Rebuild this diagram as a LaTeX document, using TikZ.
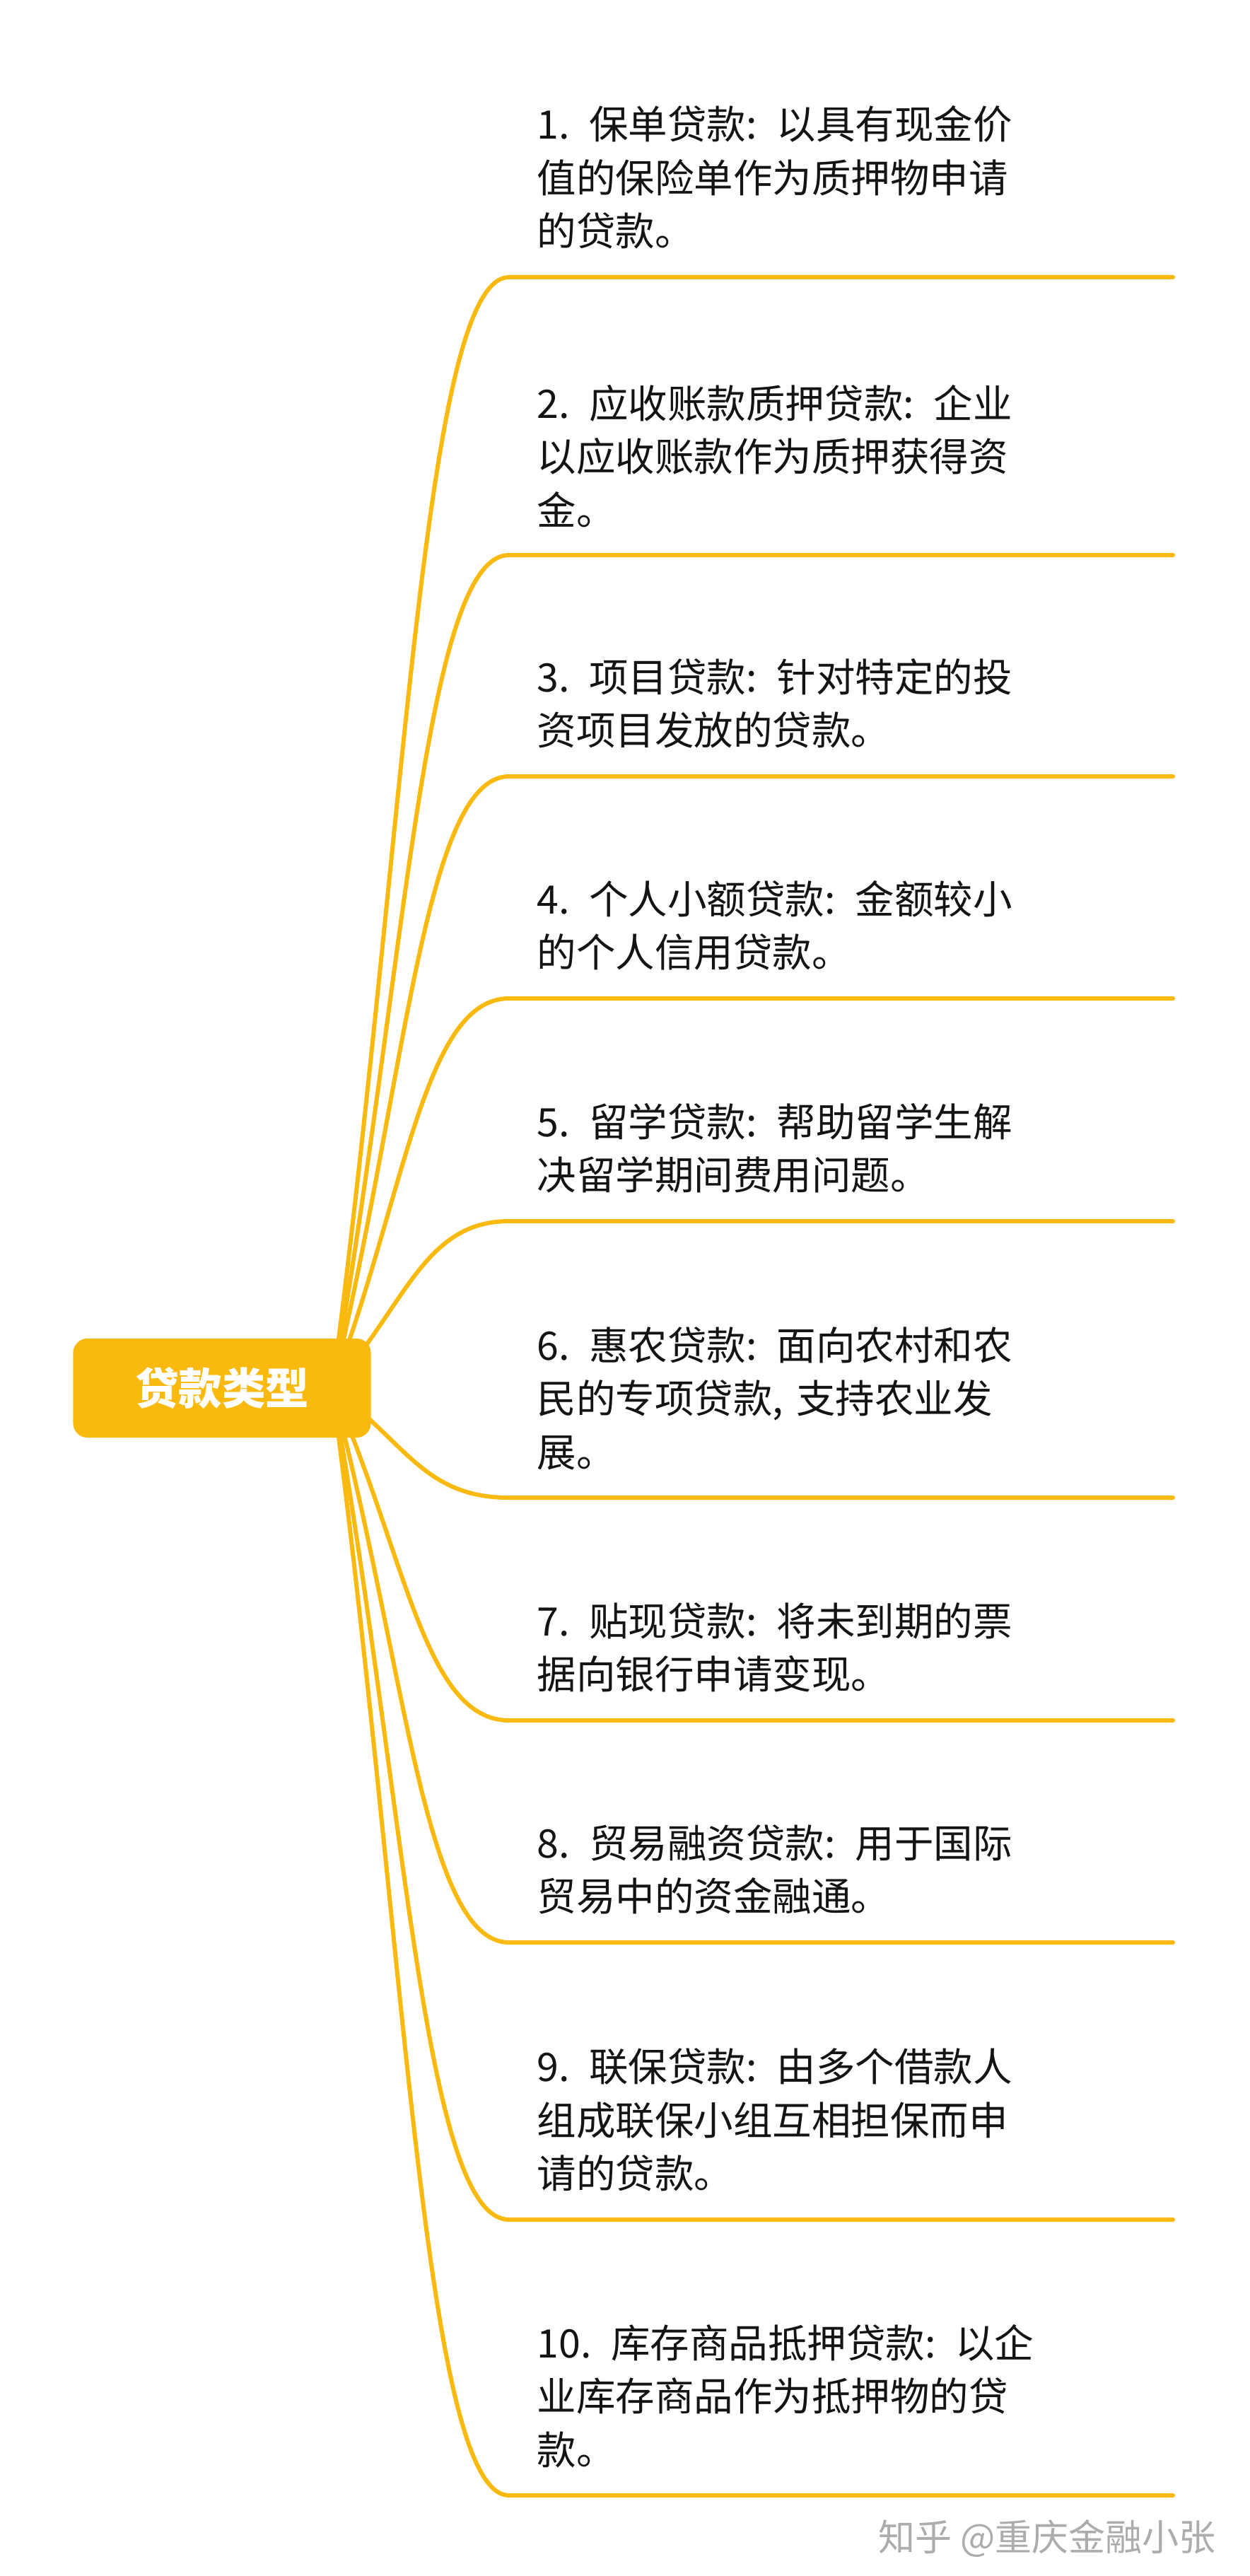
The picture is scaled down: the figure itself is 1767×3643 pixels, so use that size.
\documentclass[tikz,border=0pt]{standalone}
\usepackage{fontspec}
\setmainfont{Noto Sans CJK SC}
\usetikzlibrary{backgrounds}
\definecolor{amber}{RGB}{250,185,15}
\definecolor{inkblack}{RGB}{20,20,20}
\definecolor{markgray}{RGB}{172,172,172}

\begin{document}
\begin{tikzpicture}[x=0.4pt, y=-0.4pt,
 root/.style={fill=amber, rounded corners=8pt, minimum width=168.4pt, minimum height=56pt, inner sep=0pt, text=white, font=\fontsize{24.6pt}{30pt}\selectfont\bfseries},
 item/.style={anchor=south west, inner sep=0pt, align=left, text width=330pt, text=inkblack, font=\fontsize{22.2pt}{30.2pt}\selectfont},
 branch/.style={draw=amber, line width=2.4pt, line cap=round, line join=round},
 wmark/.style={anchor=west, inner sep=0pt, text=markgray, font=\fontsize{20.8pt}{24pt}\selectfont}]

 \useasboundingbox (0,0) rectangle (1767,3643);

 % --- 中心主题 ---
 \node[root] (root) at (314,1963) {贷款类型};

 % --- 分支 ---
 \coordinate (s1) at (720,392);  \coordinate (e1) at (1659,392);
 \coordinate (s2) at (720,785);  \coordinate (e2) at (1659,785);
 \coordinate (s3) at (720,1098); \coordinate (e3) at (1659,1098);
 \coordinate (s4) at (720,1412); \coordinate (e4) at (1659,1412);
 \coordinate (s5) at (720,1727); \coordinate (e5) at (1659,1727);
 \coordinate (s6) at (720,2118); \coordinate (e6) at (1659,2118);
 \coordinate (s7) at (720,2433); \coordinate (e7) at (1659,2433);
 \coordinate (s8) at (720,2747); \coordinate (e8) at (1659,2747);
 \coordinate (s9) at (720,3139); \coordinate (e9) at (1659,3139);
 \coordinate (s10) at (720,3529); \coordinate (e10) at (1659,3529);

 \node[item] (loan1) at (759,353) {1. 保单贷款: 以具有现金价\\值的保险单作为质押物申请\\的贷款。};
 \node[item] (loan2) at (759,746) {2. 应收账款质押贷款: 企业\\以应收账款作为质押获得资\\金。};
 \node[item] (loan3) at (759,1059) {3. 项目贷款: 针对特定的投\\资项目发放的贷款。};
 \node[item] (loan4) at (759,1373) {4. 个人小额贷款: 金额较小\\的个人信用贷款。};
 \node[item] (loan5) at (759,1688) {5. 留学贷款: 帮助留学生解\\决留学期间费用问题。};
 \node[item] (loan6) at (759,2079) {6. 惠农贷款: 面向农村和农\\民的专项贷款, 支持农业发\\展。};
 \node[item] (loan7) at (759,2394) {7. 贴现贷款: 将未到期的票\\据向银行申请变现。};
 \node[item] (loan8) at (759,2708) {8. 贸易融资贷款: 用于国际\\贸易中的资金融通。};
 \node[item] (loan9) at (759,3100) {9. 联保贷款: 由多个借款人\\组成联保小组互相担保而申\\请的贷款。};
 \node[item] (loan10) at (759,3490) {10. 库存商品抵押贷款: 以企\\业库存商品作为抵押物的贷\\款。};

 \begin{scope}[on background layer]
 \fill[white] (0,0) rectangle (1767,3643);
 \draw[branch] ([xshift=-22pt]root.east) .. controls (574,1177) and (600,392) .. (s1) -- (e1);
 \draw[branch] ([xshift=-22pt]root.east) .. controls (574,1374) and (600,785) .. (s2) -- (e2);
 \draw[branch] ([xshift=-22pt]root.east) .. controls (574,1530) and (600,1098) .. (s3) -- (e3);
 \draw[branch] ([xshift=-22pt]root.east) .. controls (574,1687) and (600,1412) .. (s4) -- (e4);
 \draw[branch] ([xshift=-22pt]root.east) .. controls (574,1845) and (600,1727) .. (s5) -- (e5);
 \draw[branch] ([xshift=-22pt]root.east) .. controls (574,2040) and (600,2118) .. (s6) -- (e6);
 \draw[branch] ([xshift=-22pt]root.east) .. controls (574,2198) and (600,2433) .. (s7) -- (e7);
 \draw[branch] ([xshift=-22pt]root.east) .. controls (574,2355) and (600,2747) .. (s8) -- (e8);
 \draw[branch] ([xshift=-22pt]root.east) .. controls (574,2551) and (600,3139) .. (s9) -- (e9);
 \draw[branch] ([xshift=-22pt]root.east) .. controls (574,2746) and (600,3529) .. (s10) -- (e10);
 \end{scope}

 % --- 水印 ---
 \node[wmark] (zhihu) at (1242,3590) {知乎 @重庆金融小张};
\end{tikzpicture}
\end{document}
